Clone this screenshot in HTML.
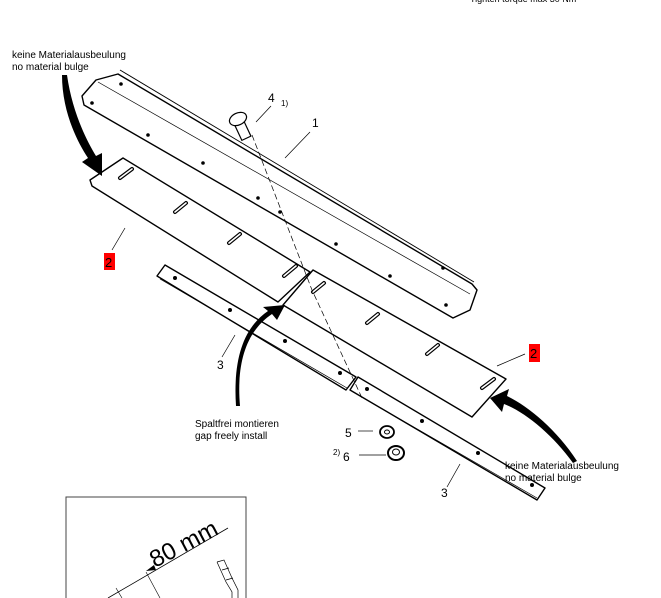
<!DOCTYPE html>
<html><head><meta charset="utf-8"><style>
html,body{margin:0;padding:0;background:#fff;}
svg{display:block;font-family:"Liberation Sans",sans-serif;}
</style></head><body>
<svg width="661" height="598" viewBox="0 0 661 598" xmlns="http://www.w3.org/2000/svg">
<rect width="661" height="598" fill="#fff"/>
<text x="470" y="2" font-size="9" fill="#000">Tighten torque max 30 Nm</text>

<!-- rail 1 -->
<g fill="#fff" stroke="#000" stroke-width="1.4" stroke-linejoin="round">
<polygon points="118,74 96,80 82,96 84,105 453,318 470,310 477,290 472,284"/>
<line x1="98" y1="82" x2="470" y2="294" stroke-width="0.7"/>
<line x1="120" y1="70" x2="474" y2="282" stroke-width="0.9"/>
</g>
<g fill="#000">
<circle cx="92" cy="103" r="1.8"/><circle cx="121" cy="84" r="1.8"/><circle cx="148" cy="135" r="1.8"/>
<circle cx="203" cy="163" r="1.8"/><circle cx="258" cy="198" r="1.8"/><circle cx="280" cy="212" r="1.8"/>
<circle cx="336" cy="244" r="1.8"/><circle cx="390" cy="276" r="1.8"/><circle cx="443" cy="268" r="1.8"/>
<circle cx="446" cy="305" r="1.8"/>
</g>

<!-- bars 3 -->
<g fill="#fff" stroke="#000" stroke-width="1.4" stroke-linejoin="round">
<polygon points="165,265 157,276 346,390 356,377"/>
<line x1="160" y1="279" x2="347" y2="388" stroke-width="0.7"/>
<polygon points="358,377 350,390 537,500 545,488"/>
<line x1="353" y1="392" x2="537" y2="498" stroke-width="0.7"/>
</g>
<g fill="#000">
<circle cx="175" cy="278" r="2"/><circle cx="230" cy="310" r="2"/><circle cx="285" cy="341" r="2"/><circle cx="340" cy="373" r="2"/>
<circle cx="367" cy="389" r="2"/><circle cx="422" cy="421" r="2"/><circle cx="478" cy="453" r="2"/><circle cx="532" cy="485" r="2"/>
</g>

<!-- plates 2 -->
<g fill="#fff" stroke="#000" stroke-width="1.4" stroke-linejoin="round">
<polygon points="123,158 90,180 92,186 278,302 310,272"/>
<polygon points="313,270 283,305 472,417 506,379"/>
</g>
<g stroke="#000" stroke-width="4" stroke-linecap="round">
<line x1="120" y1="178" x2="132" y2="169"/><line x1="175" y1="212" x2="186" y2="203"/>
<line x1="229" y1="243" x2="240" y2="234"/><line x1="284" y1="276" x2="296" y2="266"/>
<line x1="313" y1="292" x2="324" y2="283"/><line x1="367" y1="323" x2="378" y2="314"/>
<line x1="427" y1="354" x2="438" y2="345"/><line x1="482" y1="388" x2="494" y2="379"/>
</g>
<g stroke="#fff" stroke-width="1.6" stroke-linecap="round">
<line x1="120" y1="178" x2="132" y2="169"/><line x1="175" y1="212" x2="186" y2="203"/>
<line x1="229" y1="243" x2="240" y2="234"/><line x1="284" y1="276" x2="296" y2="266"/>
<line x1="313" y1="292" x2="324" y2="283"/><line x1="367" y1="323" x2="378" y2="314"/>
<line x1="427" y1="354" x2="438" y2="345"/><line x1="482" y1="388" x2="494" y2="379"/>
</g>

<!-- dashed center line -->
<polyline points="252,135 312,290 362,398" fill="none" stroke="#000" stroke-width="0.7" stroke-dasharray="6,3"/>

<!-- bolt 4 -->
<g stroke="#000" stroke-width="1.2" fill="#fff">
<rect x="238" y="123" width="10" height="16" transform="rotate(-25 243 131)"/>
<ellipse cx="238" cy="119" rx="9" ry="6" transform="rotate(-25 238 119)"/>
</g>
<!-- washer 5 / nut 6 -->
<g stroke="#000" fill="#fff">
<ellipse cx="387" cy="432" rx="7" ry="6" stroke-width="1.8"/><ellipse cx="387" cy="432" rx="2.5" ry="2" stroke-width="1"/>
<ellipse cx="396" cy="453" rx="8" ry="7" stroke-width="2"/><ellipse cx="396" cy="452" rx="3.5" ry="3" stroke-width="1"/>
</g>

<!-- arrows -->
<g fill="#000">
<path d="M62,75 C62,110 76,140 88,158 L82,162 L102,176 L102,153 L96,156 C85,138 72,110 67,75 Z"/>
<path d="M240,406 C236,360 248,330 272,314 L277,320 L285,305 L263,307 L268,311 C243,328 233,360 236,406 Z"/>
<path d="M577,461 C557,430 528,406 507,396 L509,389 L490,398 L502,412 L504,404 C525,412 553,435 573,463 Z"/>
</g>

<!-- leader lines -->
<g stroke="#000" stroke-width="0.7">
<line x1="256" y1="122" x2="271" y2="106"/>
<line x1="285" y1="158" x2="310" y2="132"/>
<line x1="112" y1="250" x2="125" y2="228"/>
<line x1="222" y1="357" x2="235" y2="335"/>
<line x1="497" y1="366" x2="525" y2="354"/>
<line x1="358" y1="431" x2="373" y2="431"/>
<line x1="359" y1="455" x2="386" y2="455"/>
<line x1="447" y1="487" x2="460" y2="464"/>
</g>

<!-- labels -->
<g font-size="10" fill="#000">
<text x="12" y="58">keine Materialausbeulung</text>
<text x="12" y="70">no material bulge</text>
<text x="268" y="102" font-size="12">4</text>
<text x="281" y="106" font-size="8">1)</text>
<text x="312" y="127" font-size="12">1</text>
<text x="217" y="369" font-size="12">3</text>
<text x="195" y="427">Spaltfrei montieren</text>
<text x="195" y="439">gap freely install</text>
<text x="345" y="437" font-size="12">5</text>
<text x="333" y="455" font-size="8">2)</text>
<text x="343" y="461" font-size="12">6</text>
<text x="441" y="497" font-size="12">3</text>
<text x="505" y="469">keine Materialausbeulung</text>
<text x="505" y="481">no material bulge</text>
</g>
<rect x="104" y="253" width="11" height="17" fill="#f00"/>
<text x="105" y="267" font-size="13" fill="#000">2</text>
<rect x="529" y="344" width="11" height="18" fill="#f00"/>
<text x="530" y="358" font-size="13" fill="#000">2</text>

<!-- detail box -->
<polyline points="66,598 66,497 246,497 246,598" fill="none" stroke="#444" stroke-width="1"/>
<text x="0" y="0" font-size="24" transform="translate(155,568) rotate(-28)">80 mm</text>
<line x1="108" y1="598" x2="228" y2="528" stroke="#000" stroke-width="0.8"/>
<polygon points="156,570 146,571 154,565" fill="#000"/>
<line x1="146" y1="572" x2="160" y2="598" stroke="#000" stroke-width="0.6"/>
<line x1="116" y1="588" x2="122" y2="598" stroke="#000" stroke-width="0.6"/>
<path d="M217,562 L224,560 L232,578 L238,590 L238,598 M217,562 L226,582 L232,592 L232,598 M222,570 L229,568 M226,580 L233,578" fill="none" stroke="#000" stroke-width="0.7"/>
</svg>
</body></html>
